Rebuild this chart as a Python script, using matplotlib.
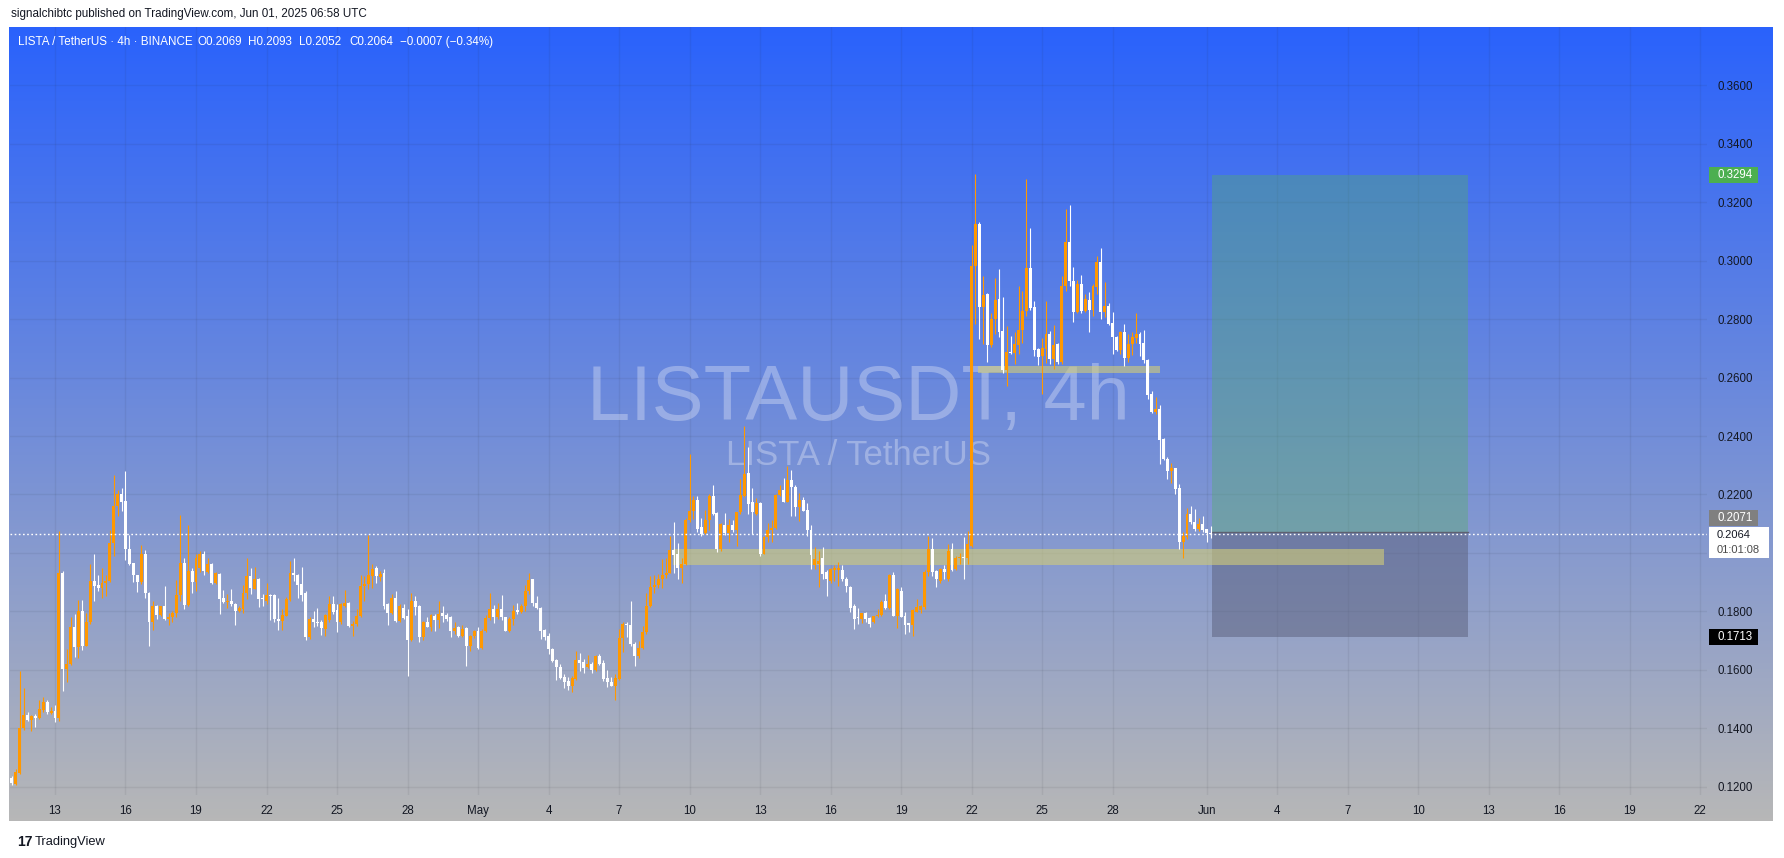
import numpy as np
import pandas as pd
import matplotlib
matplotlib.use("Agg")
import matplotlib.pyplot as plt
from matplotlib.patches import Rectangle

W, H, DPI = 1784, 858, 100
plt.rcParams['font.family'] = ['Liberation Sans', 'DejaVu Sans']

# ---- data (4h candles, first one at 2025-04-11 04:00 UTC) ----
start = pd.Timestamp("2025-04-11 04:00")

opens = [
    .1228, .1208, .1248, .1401, .1444, .1427, .1442, .1435, .1461, .1489,
    .1453, .1458, .1435, .1930, .1603, .1620, .1745, .1677, .1802, .1683,
    .1762, .1904, .1889, .1881, .1898, .1905, .2035, .2162, .2200, .2177,
    .2015, .1964, .1923, .1901, .1995, .1862, .1762, .1817, .1787, .1817,
    .1773, .1779, .1796, .1855, .1965, .1822, .1938, .1901, .1950, .1995,
    .1935, .1961, .1898, .1927, .1846, .1833, .1836, .1825, .1802, .1808,
    .1862, .1921, .1878, .1910, .1847, .1836, .1856, .1856, .1773, .1768,
    .1785, .1839, .1933, .1923, .1893, .1862, .1711, .1773, .1765, .1762,
    .1740, .1770, .1825, .1804, .1762, .1820, .1828, .1751, .1756, .1785,
    .1887, .1893, .1921, .1947, .1918, .1930, .1825, .1796, .1845, .1768,
    .1811, .1785, .1703, .1836, .1819, .1713, .1762, .1745, .1785, .1771,
    .1794, .1787, .1779, .1734, .1747, .1717, .1743, .1683, .1714, .1734,
    .1675, .1734, .1776, .1808, .1779, .1808, .1779, .1734, .1773, .1806,
    .1797, .1819, .1870, .1910, .1830, .1811, .1736, .1714, .1671, .1635,
    .1609, .1575, .1560, .1544, .1569, .1634, .1626, .1609, .1620, .1598,
    .1648, .1623, .1571, .1558, .1546, .1569, .1708, .1756, .1753, .1690,
    .1648, .1674, .1728, .1819, .1885, .1889, .1910, .1923, .1933, .2009,
    .1998, .1947, .1963, .2111, .2145, .2182, .2088, .2069, .2111, .2196,
    .2136, .2014, .2094, .2069, .2094, .2077, .2139, .2196, .2273, .2174,
    .2134, .2171, .1998, .2054, .2077, .2085, .2199, .2216, .2176, .2248,
    .2225, .2157, .2182, .2147, .2079, .1959, .1962, .1982, .1936, .1905,
    .1943, .1940, .1942, .1911, .1883, .1820, .1780, .1774, .1793, .1776,
    .1763, .1783, .1787, .1837, .1811, .1923, .1785, .1871, .1785, .1760,
    .1754, .1799, .1803, .1816, .1934, .2012, .1939, .1905, .1945, .1911,
    .2012, .1944, .1983, .1984, .1984, .2024, .2983, .3126, .2840, .2886,
    .2712, .2800, .2869, .2760, .2626, .2686, .2683, .2711, .2763, .2829,
    .2974, .2840, .2697, .2675, .2697, .2749, .2663, .2715, .2654, .2912,
    .3063, .2932, .2823, .2920, .2829, .2865, .2832, .2909, .2997, .2825,
    .2846, .2786, .2738, .2695, .2757, .2666, .2715, .2735, .2749, .2720,
    .2661, .2543, .2481, .2494, .2390, .2323, .2281, .2289, .2221, .2038,
    .2056, .2133, .2106, .2081, .2098, .2081, .2069,
]
highs = [
    .1235, .1262, .1597, .1537, .1455, .1445, .1450, .1495, .1506, .1495,
    .1472, .1480, .2075, .1938, .1671, .1779, .1790, .1838, .1838, .1796,
    .1961, .1998, .1923, .1950, .1923, .2077, .2268, .2217, .2222, .2281,
    .2060, .1967, .1925, .2026, .2010, .1865, .1836, .1822, .1820, .1887,
    .1796, .1800, .1906, .2129, .1984, .2097, .1950, .1995, .2006, .2006,
    .1981, .1965, .1935, .1930, .1872, .1859, .1876, .1828, .1819, .1889,
    .1984, .1947, .1953, .1915, .1859, .1898, .1860, .1860, .1845, .1808,
    .1850, .1972, .1981, .1928, .1953, .1870, .1780, .1800, .1811, .1770,
    .1790, .1853, .1853, .1825, .1830, .1872, .1832, .1768, .1808, .1923,
    .1921, .2060, .1961, .1955, .1938, .1944, .1830, .1859, .1870, .1825,
    .1825, .1808, .1862, .1853, .1822, .1768, .1779, .1790, .1790, .1834,
    .1819, .1796, .1785, .1762, .1750, .1753, .1746, .1718, .1737, .1745,
    .1740, .1787, .1862, .1822, .1828, .1855, .1782, .1782, .1822, .1828,
    .1825, .1889, .1933, .1912, .1853, .1815, .1740, .1726, .1676, .1637,
    .1620, .1586, .1577, .1580, .1666, .1658, .1637, .1652, .1626, .1652,
    .1654, .1634, .1600, .1575, .1586, .1739, .1762, .1762, .1834, .1695,
    .1700, .1751, .1862, .1921, .1923, .1927, .1978, .1984, .2058, .2105,
    .2035, .1983, .2118, .2339, .2196, .2196, .2119, .2147, .2202, .2233,
    .2140, .2103, .2137, .2117, .2114, .2139, .2253, .2436, .2362, .2222,
    .2187, .2175, .2058, .2103, .2111, .2202, .2233, .2256, .2296, .2284,
    .2233, .2206, .2191, .2171, .2097, .2020, .2008, .2020, .1940, .1950,
    .1959, .1968, .1957, .1917, .1888, .1825, .1811, .1796, .1799, .1779,
    .1785, .1808, .1839, .1860, .1929, .1934, .1879, .1883, .1797, .1760,
    .1808, .1842, .1822, .1940, .2057, .2050, .1943, .1950, .1957, .2031,
    .2035, .1990, .2001, .2053, .2075, .3054, .3297, .3131, .2949, .2890,
    .2820, .2941, .2972, .2877, .2775, .2743, .2755, .2914, .2897, .3280,
    .3111, .2863, .2700, .2737, .2863, .2760, .2780, .2720, .2949, .3177,
    .3191, .2977, .2935, .2951, .2886, .2892, .2920, .3015, .3042, .2926,
    .2855, .2825, .2742, .2760, .2783, .2749, .2755, .2821, .2755, .2764,
    .2665, .2555, .2532, .2506, .2395, .2328, .2307, .2292, .2235, .2070,
    .2155, .2161, .2150, .2121, .2127, .2083, .2093,
]
lows = [
    .1205, .1205, .1245, .1395, .1424, .1389, .1404, .1430, .1455, .1450,
    .1450, .1421, .1424, .1529, .1558, .1615, .1643, .1639, .1668, .1680,
    .1756, .1836, .1870, .1847, .1853, .1900, .1989, .2126, .2143, .1975,
    .1958, .1901, .1867, .1895, .1846, .1683, .1736, .1773, .1783, .1770,
    .1754, .1762, .1779, .1836, .1808, .1819, .1862, .1870, .1935, .1923,
    .1932, .1893, .1895, .1790, .1828, .1810, .1817, .1754, .1798, .1793,
    .1844, .1861, .1875, .1815, .1819, .1825, .1771, .1762, .1737, .1736,
    .1783, .1835, .1904, .1847, .1836, .1702, .1705, .1745, .1751, .1720,
    .1717, .1765, .1790, .1730, .1758, .1815, .1745, .1716, .1750, .1780,
    .1836, .1876, .1881, .1898, .1904, .1808, .1754, .1792, .1765, .1765,
    .1773, .1580, .1700, .1788, .1696, .1702, .1745, .1734, .1734, .1743,
    .1762, .1768, .1711, .1722, .1711, .1713, .1612, .1665, .1710, .1672,
    .1672, .1730, .1770, .1760, .1775, .1770, .1732, .1730, .1755, .1790,
    .1795, .1802, .1859, .1819, .1808, .1705, .1703, .1654, .1626, .1566,
    .1569, .1538, .1531, .1523, .1565, .1595, .1588, .1605, .1588, .1595,
    .1615, .1561, .1541, .1543, .1495, .1565, .1660, .1713, .1683, .1614,
    .1640, .1670, .1724, .1815, .1864, .1880, .1881, .1915, .1930, .1933,
    .1910, .1898, .1960, .2105, .2116, .2071, .2059, .2065, .2077, .2130,
    .2002, .2005, .2060, .2037, .2071, .2025, .2133, .2190, .2134, .2065,
    .2130, .1989, .1995, .2037, .2037, .2082, .2196, .2173, .2173, .2128,
    .2128, .2108, .2145, .2059, .1945, .1945, .1883, .1911, .1854, .1897,
    .1905, .1888, .1905, .1865, .1799, .1738, .1757, .1759, .1762, .1745,
    .1759, .1779, .1783, .1808, .1808, .1783, .1742, .1780, .1723, .1728,
    .1717, .1797, .1795, .1808, .1922, .1922, .1883, .1897, .1911, .1905,
    .1939, .1940, .1961, .1910, .1961, .2020, .2783, .2732, .2715, .2652,
    .2705, .2749, .2740, .2615, .2572, .2680, .2646, .2680, .2720, .2812,
    .2830, .2675, .2643, .2543, .2650, .2648, .2631, .2648, .2648, .2897,
    .2914, .2791, .2820, .2820, .2825, .2755, .2810, .2886, .2800, .2806,
    .2780, .2680, .2690, .2680, .2640, .2654, .2677, .2718, .2675, .2650,
    .2526, .2478, .2475, .2304, .2318, .2252, .2241, .2201, .2015, .1984,
    .2047, .2098, .2075, .2075, .2070, .2038, .2052,
]
closes = [
    .1211, .1251, .1401, .1444, .1427, .1441, .1435, .1467, .1489, .1455,
    .1458, .1435, .1930, .1603, .1620, .1745, .1677, .1802, .1683, .1762,
    .1904, .1887, .1881, .1898, .1905, .2035, .2162, .2200, .2173, .2012,
    .1961, .1923, .1901, .1995, .1862, .1762, .1817, .1787, .1817, .1773,
    .1779, .1796, .1855, .1967, .1822, .1938, .1901, .1984, .1995, .1938,
    .1961, .1896, .1930, .1841, .1833, .1836, .1825, .1802, .1813, .1862,
    .1921, .1881, .1910, .1841, .1841, .1856, .1853, .1773, .1768, .1788,
    .1841, .1930, .1923, .1889, .1856, .1711, .1773, .1762, .1760, .1742,
    .1788, .1825, .1798, .1762, .1825, .1827, .1751, .1756, .1785, .1887,
    .1893, .1923, .1946, .1921, .1927, .1819, .1794, .1847, .1768, .1819,
    .1776, .1703, .1836, .1816, .1713, .1762, .1747, .1787, .1771, .1790,
    .1785, .1773, .1734, .1742, .1717, .1740, .1683, .1714, .1734, .1675,
    .1734, .1776, .1808, .1779, .1808, .1779, .1734, .1773, .1802, .1797,
    .1819, .1870, .1906, .1830, .1811, .1734, .1711, .1671, .1631, .1609,
    .1572, .1558, .1543, .1571, .1634, .1624, .1606, .1620, .1600, .1648,
    .1620, .1569, .1558, .1546, .1571, .1708, .1756, .1753, .1688, .1648,
    .1675, .1728, .1819, .1885, .1889, .1910, .1923, .1933, .2009, .1992,
    .1947, .1963, .2111, .2145, .2180, .2082, .2065, .2111, .2196, .2134,
    .2014, .2099, .2069, .2094, .2080, .2139, .2199, .2271, .2168, .2139,
    .2171, .1998, .2054, .2077, .2085, .2199, .2216, .2176, .2248, .2225,
    .2157, .2182, .2145, .2077, .1993, .1979, .1974, .1928, .1911, .1945,
    .1950, .1948, .1911, .1888, .1811, .1774, .1777, .1793, .1774, .1757,
    .1783, .1787, .1831, .1811, .1923, .1785, .1875, .1780, .1754, .1754,
    .1803, .1814, .1820, .1934, .2012, .1936, .1911, .1945, .1936, .2008,
    .1942, .1984, .1986, .1981, .2030, .2983, .3126, .2840, .2883, .2712,
    .2800, .2867, .2755, .2626, .2686, .2683, .2715, .2763, .2829, .2974,
    .2837, .2694, .2672, .2700, .2749, .2663, .2712, .2654, .2912, .3063,
    .2932, .2823, .2920, .2829, .2869, .2832, .2914, .2994, .2825, .2846,
    .2783, .2738, .2695, .2757, .2666, .2715, .2738, .2749, .2715, .2661,
    .2540, .2483, .2494, .2387, .2321, .2281, .2289, .2218, .2038, .2058,
    .2133, .2106, .2081, .2098, .2079, .2069, .2064,
]

tick_days = ["2025-04-13", "2025-04-16", "2025-04-19", "2025-04-22", "2025-04-25",
             "2025-04-28", "2025-05-01", "2025-05-04", "2025-05-07", "2025-05-10",
             "2025-05-13", "2025-05-16", "2025-05-19", "2025-05-22", "2025-05-25",
             "2025-05-28", "2025-06-01", "2025-06-04", "2025-06-07", "2025-06-10",
             "2025-06-13", "2025-06-16", "2025-06-19", "2025-06-22"]
tick_labels = ["13", "16", "19", "22", "25", "28", "May", "4", "7", "10", "13", "16",
               "19", "22", "25", "28", "Jun", "4", "7", "10", "13", "16", "19", "22"]
price_ticks = [0.12, 0.14, 0.16, 0.18, 0.20, 0.22, 0.24, 0.26, 0.28, 0.30, 0.32, 0.34, 0.36]
# 0.2000 sits under the live-price tag in the reference, so it shows no label
price_labels = ["0.1200", "0.1400", "0.1600", "0.1800", "", "0.2200", "0.2400",
                "0.2600", "0.2800", "0.3000", "0.3200", "0.3400", "0.3600"]

last_price = 0.2064
entry, target, stop = 0.2071, 0.3294, 0.1713
box_times = ("2025-06-01 05:36", "2025-06-12 02:48")
zone_low = ("2025-05-09 07:00", "2025-06-08 13:00", 0.1960, 0.2012)
zone_high = ("2025-05-22 06:24", "2025-05-30 00:24", 0.2615, 0.2641)


def idx(ts):
    return (pd.Timestamp(ts) - start) / pd.Timedelta(hours=4)


fig = plt.figure(figsize=(W / DPI, H / DPI), dpi=DPI, facecolor="white")

# gradient background (plot + axes area)
bg = fig.add_axes([9 / W, 1 - 821 / H, (1773 - 9) / W, (821 - 27) / H])
top_c = np.array([42, 98, 252]) / 255
bot_c = np.array([183, 183, 183]) / 255
t = np.linspace(0, 1, 256)[:, None]
grad = top_c[None, :] * (1 - t) + bot_c[None, :] * t
bg.imshow(grad[:, None, :], aspect="auto", extent=[0, 1, 0, 1])
bg.axis("off")

ax = fig.add_axes([10 / W, 1 - 795 / H, (1707 - 10) / W, (795 - 27) / H])
ax.patch.set_alpha(0)
for s in ax.spines.values():
    s.set_visible(False)
ax.set_xlim(-0.485, 432.75)
ax.set_ylim(0.11715, 0.3800)

ax.set_axisbelow(True)
ax.set_yticks(price_ticks)
ax.set_yticklabels(price_labels)
ax.yaxis.tick_right()
ax.set_xticks([idx(d) for d in tick_days])
ax.set_xticklabels(tick_labels)
ax.tick_params(axis="both", length=0, labelsize=8.3, labelcolor="#131722")
ax.tick_params(axis="y", pad=7.5)
ax.tick_params(axis="x", pad=7)
ax.grid(True, color="#2a2e39", alpha=0.08, lw=1)

# watermark
ax.text(858 / W, 1 - 420 / H, "LISTAUSDT, 4h", transform=fig.transFigure, ha="center",
        va="baseline", fontsize=56, color="white", alpha=0.3, zorder=0.6)
ax.text(858 / W, 1 - 465 / H, "LISTA / TetherUS", transform=fig.transFigure, ha="center",
        va="baseline", fontsize=25, color="white", alpha=0.3, zorder=0.6)

# long position box
b0, b1 = idx(box_times[0]), idx(box_times[1])
ax.add_patch(Rectangle((b0, entry), b1 - b0, target - entry, fc="#56ad6a", alpha=0.38,
                       lw=0, zorder=1.2))
ax.add_patch(Rectangle((b0, stop), b1 - b0, entry - stop, fc="#5a5f7b", alpha=0.5,
                       lw=0, zorder=1.2))
ax.plot([b0, b1], [entry, entry], color="#5d6070", lw=1, zorder=1.3)

# zones
for z in (zone_low, zone_high):
    z0, z1 = idx(z[0]), idx(z[1])
    ax.add_patch(Rectangle((z0, z[2]), z1 - z0, z[3] - z[2], fc="#d2cd78", alpha=0.6,
                           lw=0, zorder=1.5))

# candles
o = np.array(opens); h = np.array(highs); l = np.array(lows); c = np.array(closes)
x = np.arange(len(c))
up = c >= o
cols = np.where(up, "#ff9800", "#ffffff")
ax.vlines(x, np.minimum(l, np.minimum(o, c)), np.maximum(h, np.maximum(o, c)),
          colors=cols, lw=0.8, zorder=3)
body_lo = np.minimum(o, c)
body_h = np.maximum(np.abs(c - o), 0.00035)
ax.bar(x, body_h, bottom=body_lo, width=0.75, color=cols, lw=0, zorder=3.1)

ax.axhline(last_price, color="white", lw=1.0, ls=(0, (1.2, 1.8)), zorder=4)


# price-axis labels
def ypx(p):
    return H - ax.transData.transform((0, p))[1]


def tag(yc, text, fc, tc, x0=1709, w=49, h=16):
    fig.patches.append(Rectangle((x0 / W, 1 - (yc + h / 2) / H), w / W, h / H, fc=fc,
                                 lw=0, transform=fig.transFigure, figure=fig))
    fig.text(1717 / W, 1 - yc / H, text, ha="left", va="center", fontsize=8.3, color=tc)


tag(ypx(target), f"{target:.4f}", "#4caf50", "white")
tag(ypx(entry) - 14, f"{entry:.4f}", "#808080", "white")
tag(ypx(stop), f"{stop:.4f}", "#000000", "white")
fig.patches.append(Rectangle((1709 / W, 1 - 558 / H), 60 / W, 31 / H, fc="white", lw=0,
                             transform=fig.transFigure, figure=fig))
fig.text(1717 / W, 1 - 535 / H, f"{last_price:.4f}", ha="left", va="center", fontsize=8,
         color="#131722")
fig.text(1717 / W, 1 - 550 / H, "01:01:08", ha="left", va="center", fontsize=8,
         color="#4a4a4a")

# header + legend
fig.text(11 / W, 1 - 14 / H, "signalchibtc published on TradingView.com, Jun 01, 2025 06:58 UTC",
         ha="left", va="center", fontsize=8.4, color="#131722")
legend = [(18, "LISTA / TetherUS · 4h · BINANCE"), (197, "O0.2069"), (248, "H0.2093"),
          (299, "L0.2052"), (349, "C0.2064"), (400, "−0.0007 (−0.34%)")]
for lx, s in legend:
    fig.text(lx / W, 1 - 42 / H, s, ha="left", va="center", fontsize=8.4, color="white")

# footer logo
fig.text(17 / W, 1 - 842 / H, "17", ha="left", va="center", fontsize=10, fontweight="bold",
         color="#131722")
fig.text(35 / W, 1 - 842 / H, "TradingView", ha="left", va="center", fontsize=9.3,
         color="#131722")

fig.savefig("out.png", dpi=DPI)
